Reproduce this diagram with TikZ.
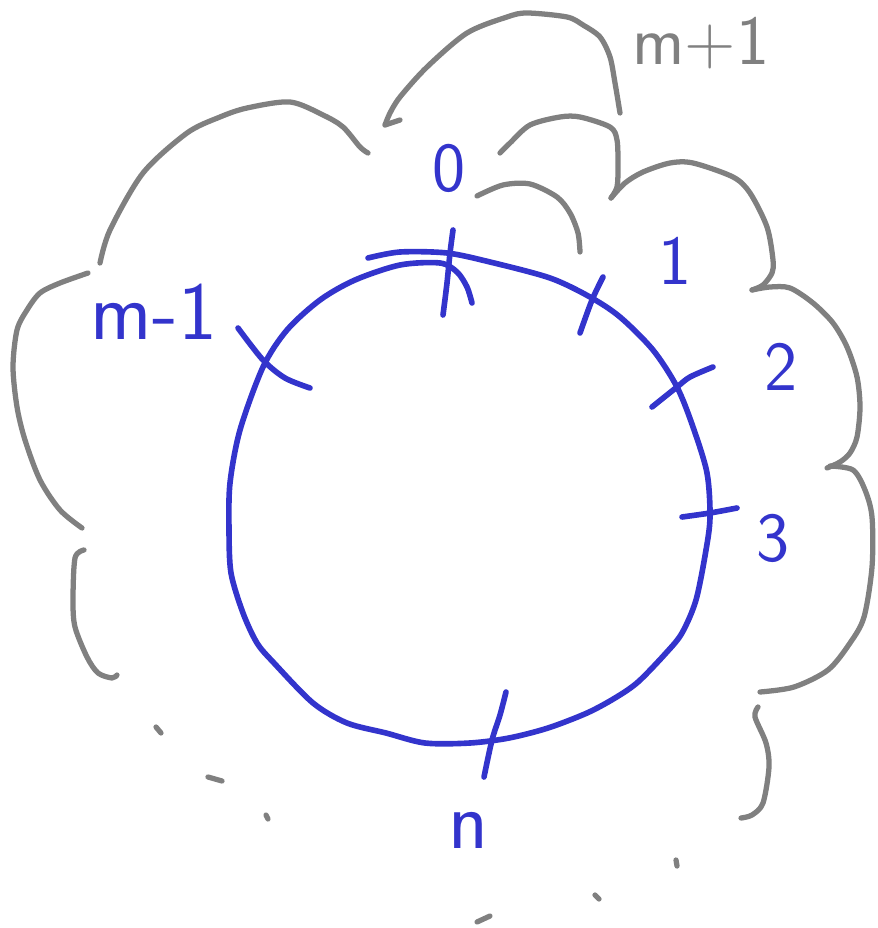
\documentclass[tikz,border=0pt]{standalone}
\usepackage{tikz}
\definecolor{inkblue}{RGB}{51,52,204}
\definecolor{inkgray}{RGB}{128,128,128}
\tikzset{ringline/.style={draw=inkblue,line width=3.2pt,line cap=round,line join=round},
         tickline/.style={ringline},
         cloudline/.style={draw=inkgray,line width=3pt,line cap=round,line join=round},
         lbl/.style={inner sep=0pt,text=inkblue,font=\sffamily\fontsize{40}{40}\selectfont},
         biglbl/.style={lbl,font=\sffamily\fontsize{47}{47}\selectfont},
         graylbl/.style={lbl,text=inkgray}}

\begin{document}
\begin{tikzpicture}[x=0.02cm,y=-0.02cm]
  \useasboundingbox (0,0) rectangle (877,928);
  % the ring
  \draw[ringline] plot[smooth] coordinates {(368,258) (400,252) (447,253) (490,262) (550,278)
    (590,297) (620,317) (653,350) (677,387) (693,427) (707,473) (710,517) (706,550) (696,600)
    (682,633) (666,653) (638,682) (615,698) (587,713) (548,728) (509,738) (470,743) (425,743)
    (386,733) (347,723) (313,703) (274,663) (257,643) (243,613) (231,573) (229,530) (230,483)
    (240,430) (263,367) (287,330) (320,300) (355,280) (400,265) (440,263) (457,272) (467,287)
    (472,303)};
  % ticks on the ring
  \draw[tickline] plot[smooth] coordinates {(453,230) (450,253) (447,283) (443,315)};
  \draw[tickline] plot[smooth] coordinates {(603,277) (592,300) (580,333)};
  \draw[tickline] plot[smooth] coordinates {(713,367) (690,377) (677,387) (652,407)};
  \draw[tickline] plot[smooth] coordinates {(737,508) (710,513) (682,517)};
  \draw[tickline] plot[smooth] coordinates {(506,692) (500,715) (492,740) (484,777)};
  \draw[tickline] plot[smooth] coordinates {(238,328) (263,360) (285,378) (310,388)};
  % labels
  \node[lbl] (p0) at (449,168) {0};
  \node[lbl] (p1) at (675,261) {1};
  \node[lbl] (p2) at (781,367) {2};
  \node[lbl] (p3) at (773,538) {3};
  \node[biglbl] (pn) at (468,830) {n};
  \node[biglbl] (pm1) at (154,312) {m-1};
  \node[graylbl] (pmp1) at (701,43) {m+1};
  % cloud of arcs
  \draw[cloudline] plot[smooth] coordinates {(385,125) (390,113) (400,97) (427,67) (467,33)
    (507,17) (527,13) (567,17) (583,25) (600,37) (610,57) (615,83) (620,113)};
  \draw[cloudline] (385,125) -- (400,120);
  \draw[cloudline] plot[smooth] coordinates {(500,153) (510,143) (530,125) (560,117) (580,117)
    (610,127) (617,140) (618,167) (617,187) (611,198)};
  \draw[cloudline] plot[smooth] coordinates {(477,196) (503,185) (530,184) (557,197) (570,213)
    (578,233) (580,252)};
  \draw[cloudline] plot[smooth] coordinates {(611,198) (625,183) (643,172) (670,163) (693,163)
    (733,177) (750,193) (767,227) (773,260) (772,273) (763,285) (752,290)};
  \draw[cloudline] plot[smooth] coordinates {(752,290) (770,287) (790,288) (813,303) (833,323)
    (847,347) (857,377) (860,407) (857,437) (850,453) (840,462) (827,468)};
  \draw[cloudline] plot[smooth] coordinates {(830,466) (853,470) (865,490) (872,517) (872,567)
    (864,617) (850,643) (828,670) (794,687) (760,692)};
  \draw[cloudline] plot[smooth] coordinates {(758,707) (755,717) (766,743) (769,767) (763,803)
    (752,815) (741,818)};
  \draw[cloudline] plot[smooth] coordinates {(368,153) (360,147) (343,127) (323,115) (290,102)
    (247,108) (220,117) (187,133) (143,173) (110,230) (100,263)};
  \draw[cloudline] plot[smooth] coordinates {(88,273) (60,283) (40,293) (27,310) (17,330)
    (13,367) (17,407) (25,440) (40,480) (60,510) (82,528)};
  \draw[cloudline] plot[smooth] coordinates {(84,550) (75,558) (73,600) (75,627) (87,657)
    (98,673) (112,678) (117,675)};
  % dots
  \foreach \xa/\ya/\xb/\yb in {156/727/161/733, 208/777/222/781, 266/815/268/819,
                               477/922/490/916, 595/895/599/899, 676/860/677/866}
    \draw[cloudline] (\xa,\ya) -- (\xb,\yb);
\end{tikzpicture}
\end{document}
